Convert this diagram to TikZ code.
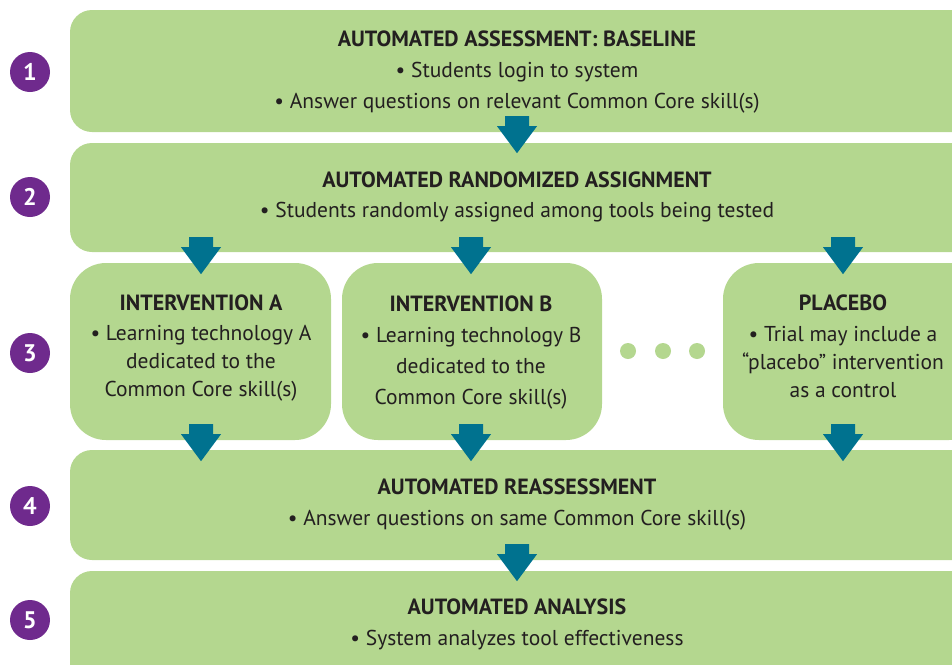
\documentclass[tikz,border=0pt]{standalone}
\usepackage{fontspec}
\setmainfont{PT Sans}
\definecolor{boxgreen}{HTML}{B4D78F}
\definecolor{arrowteal}{HTML}{00728F}
\definecolor{numpurple}{HTML}{6F2A8D}
\definecolor{txtdark}{HTML}{231F20}
\newcommand{\titlefont}{\fontsize{22}{22}\selectfont\bfseries}
\tikzset{
  bigbox/.style={rectangle, fill=boxgreen, draw=none, rounded corners=22pt, inner sep=0pt},
  midbox/.style={bigbox, rounded corners=36pt},
  numdot/.style={circle, fill=numpurple, minimum size=40pt, inner sep=0pt, text=white,
    font=\fontsize{24}{24}\selectfont\bfseries},
  boxtext/.style={align=center, text=txtdark, inner sep=0pt, font=\fontsize{21.5}{27}\selectfont},
  midtext/.style={boxtext, font=\fontsize{21.5}{28}\selectfont},
  widetext/.style={boxtext, font=\fontsize{21.5}{30}\selectfont},
  widertext/.style={boxtext, font=\fontsize{21.5}{31}\selectfont},
  ellipsisdot/.style={circle, fill=boxgreen, minimum size=16pt, inner sep=0pt},
  blockarrow/.pic={\fill[arrowteal] (-12,0) -- (12,0) -- (12,10) -- (20,10) -- (0,37) -- (-20,10) -- (-12,10) -- cycle;}
}
\begin{document}
\begin{tikzpicture}[x=1pt,y=-1pt]
\useasboundingbox (0,0) rectangle (952,664);
\clip (0,0) rectangle (952,664);
% step numbers
\node[numdot] (n1) at (30,72) {1};
\node[numdot] (n2) at (30,197) {2};
\node[numdot] (n3) at (30,353) {3};
\node[numdot] (n4) at (30,506) {4};
\node[numdot] (n5) at (30,620) {5};
% boxes
\node[bigbox, minimum width=910pt, minimum height=122pt] (b1) at (525,71) {};
\node[bigbox, minimum width=910pt, minimum height=109pt] (b2) at (525,197.5) {};
\node[midbox, minimum width=261pt, minimum height=177pt] (bA) at (200.5,351.5) {};
\node[midbox, minimum width=260pt, minimum height=177pt] (bB) at (472,351.5) {};
\node[midbox, minimum width=262pt, minimum height=177pt] (bP) at (854,351.5) {};
\node[bigbox, minimum width=910pt, minimum height=110pt] (b4) at (525,505) {};
\node[bigbox, minimum width=910pt, minimum height=122pt] (b5) at (525,632) {};
% ellipsis dots
\node[ellipsisdot] (d1) at (628,351) {};
\node[ellipsisdot] (d2) at (663,351) {};
\node[ellipsisdot] (d3) at (697,351) {};
% block arrows (connectors between stages)
\coordinate (cA) at (201,0);
\coordinate (cB) at (471,0);
\coordinate (cP) at (843,0);
\coordinate (cM) at (517,0);
\path (b1.south -| cM) ++(0,-16) pic {blockarrow};
\path (b2.south -| cA) ++(0,-15) pic {blockarrow};
\path (b2.south -| cB) ++(0,-15) pic {blockarrow};
\path (b2.south -| cP) ++(0,-15) pic {blockarrow};
\path (bA.south -| cA) ++(0,-16) pic {blockarrow};
\path (bB.south -| cB) ++(0,-16) pic {blockarrow};
\path (bP.south -| cP) ++(0,-16) pic {blockarrow};
\path (b4.south -| cM) ++(0,-16) pic {blockarrow};
% texts
\node[widertext] (t1) at (517,72.5) {{\titlefont AUTOMATED ASSESSMENT: BASELINE}\\
  \textbullet{} Students login to system\\
  \textbullet{} Answer questions on relevant Common Core skill(s)};
\node[widetext] (t2) at (517,196.5) {{\titlefont AUTOMATED RANDOMIZED ASSIGNMENT}\\
  \textbullet{} Students randomly assigned among tools being tested};
\node[midtext] (tA) at (201,348) {{\titlefont INTERVENTION A}\\[2pt]
  \textbullet{} Learning technology A\\ dedicated to the\\ Common Core skill(s)};
\node[widertext] (tB) at (471,352.5) {{\titlefont INTERVENTION B}\\
  \textbullet{} Learning technology B\\ dedicated to the\\ Common Core skill(s)};
\node[midtext] (tP) at (843,346) {{\titlefont PLACEBO}\\[3pt]
  \textbullet{} Trial may include a\\ “placebo” intervention\\ as a control};
\node[widertext] (t4) at (517,505) {{\titlefont AUTOMATED REASSESSMENT}\\
  \textbullet{} Answer questions on same Common Core skill(s)};
\node[widertext] (t5) at (517,624) {{\titlefont AUTOMATED ANALYSIS}\\
  \textbullet{} System analyzes tool effectiveness};
\end{tikzpicture}
\end{document}
